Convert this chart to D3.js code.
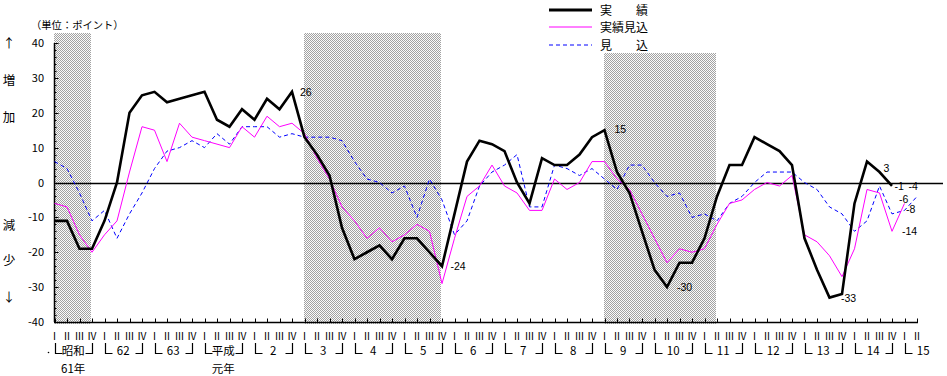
<!DOCTYPE html>
<html><head><meta charset="utf-8">
<script src="https://cdn.jsdelivr.net/npm/d3@7"></script>
<style>
body{margin:0;background:#fff}
svg{display:block}
text{font-family:"Noto Sans CJK JP","Noto Sans",sans-serif;fill:#000}
text.ann{font-family:"Liberation Sans","DejaVu Sans",sans-serif}
</style>
</head><body>
<svg id="c" width="947" height="376"></svg>
<script>
// ---------- data ----------
const quarterLabels = ["Ⅰ","Ⅱ","Ⅲ","Ⅳ"];
const yearLabels = ["昭和","62","63","平成","2","3","4","5","6","7","8","9","10","11","12","13","14","15"];
const yearSubLabels = ["61年","","","元年","","","","","","","","","","","","","",""];
const quarterCount = 70; // 昭和61年Ⅰ ～ 15年Ⅱ

// 実績
const jisseki = [-11,-11,-19,-19,-11,0,20,25,26,23,24,25,26,18,16,21,18,24,21,26,
  13,8,2,-13,-22,-20,-18,-22,-16,-16,-20,-24,-9,6,12,11,9,0,-6,7,
  5,5,8,13,15,3,-3,-14,-25,-30,-23,-23,-16,-4,5,5,13,11,9,5,
  -16,-25,-33,-32,-6,6,3,-1];
// 実績見込
const jissekiMikomi = [-6,-7,-15,-20,-15,-11,3,16,15,6,17,13,12,11,10,16,13,19,16,17,
  14,7,1,-7,-11,-16,-13,-17,-15,-12,-14,-29,-16,-4,-1,5,-1,-3,-8,-8,
  1,-2,0,6,6,1,-2,-9,-16,-23,-19,-20,-19,-12,-6,-5,-2,0,-1,2,
  -15,-17,-21,-27,-19,-2,-3,-14,-6];
// 見込
const mikomi = [6,4,-3,-11,-8,-16,-9,-3,4,9,10,12,10,14,11,16,16,16,13,14,
  13,13,13,12,6,1,0,-3,-1,-10,1,-5,-15,-11,-1,3,5,8,-7,-7,
  5,4,2,4,1,-2,5,5,0,-4,-3,-10,-9,-11,-6,-4,0,3,3,3,
  0,-2,-7,-9,-14,-11,-1,-9,-8,-4];

const yTicks = [40,30,20,10,0,-10,-20,-30,-40];
const yMinorTicks = d3.range(-40, 41, 2);

// recession shading (quarter index range, top value)
const shadeStart = [0,20,44];
const shadeEnd = [3,31,53];
const shadeTop = [43,43,37];

// annotations
const annSeries = ["jisseki","jisseki","jisseki","jisseki","jisseki","jisseki","jisseki","mikomi","jissekiMikomi","mikomi","jissekiMikomi"];
const annIndex  = [19,31,44,49,63,66,67,69,68,68,67];
const annText   = ["26","-24","15","-30","-33","3","-1","-4","-6","-8","-14"];

const legendNames = ["実　　績","実績見込","見　　込"];

// ---------- drawing ----------
const seriesMap = {jisseki, jissekiMikomi, mikomi};
const svg = d3.select("#c");
const x = d3.scaleLinear().domain([0, quarterCount-1]).range([54.5, 917]);
const y = d3.scaleLinear().domain([-40, 40]).range([322, 43]);

// checker pattern for shading
const defs = svg.append("defs");
const pat = defs.append("pattern").attr("id","chk").attr("patternUnits","userSpaceOnUse")
  .attr("width",2).attr("height",2);
pat.append("rect").attr("width",2).attr("height",2).attr("fill","#fbfbfb");
pat.append("rect").attr("x",0).attr("y",0).attr("width",1).attr("height",1).attr("fill","#a2a2a2");
pat.append("rect").attr("x",1).attr("y",1).attr("width",1).attr("height",1).attr("fill","#a2a2a2");

svg.append("g").selectAll("rect").data(shadeStart).join("rect")
  .attr("x",(d)=>Math.round(x(d))-1)
  .attr("y",(d,i)=>Math.round(y(shadeTop[i])))
  .attr("width",(d,i)=>Math.round(x(shadeEnd[i]))-Math.round(x(d)))
  .attr("height",(d,i)=>Math.round(y(-40))+2-Math.round(y(shadeTop[i])))
  .attr("fill","url(#chk)");

// y axis
const gy = svg.append("g");
gy.append("line").attr("x1",54.5).attr("x2",54.5).attr("y1",y(40)).attr("y2",y(-40)).attr("stroke","#000").attr("stroke-width",1.5);
gy.selectAll("line.mn").data(yMinorTicks).join("line").attr("class","mn")
  .attr("x1",54.5).attr("x2",56.5).attr("y1",d=>Math.round(y(d))+0.5).attr("y2",d=>Math.round(y(d))+0.5)
  .attr("stroke","#000").attr("stroke-width",1);
gy.selectAll("line.mj").data(yTicks).join("line").attr("class","mj")
  .attr("x1",54.5).attr("x2",58.5).attr("y1",d=>Math.round(y(d))+0.5).attr("y2",d=>Math.round(y(d))+0.5)
  .attr("stroke","#000").attr("stroke-width",1);
gy.selectAll("text").data(yTicks).join("text")
  .attr("x",44).attr("y",d=>y(d)+4).attr("text-anchor","end").attr("font-size",11)
  .text(d=>d);

// x axis
const gx = svg.append("g");
gx.append("line").attr("x1",54).attr("x2",918).attr("y1",322.5).attr("y2",322.5).attr("stroke","#000").attr("stroke-width",1.5);
const qIdx = d3.range(quarterCount);
gx.selectAll("line.t").data(qIdx).join("line").attr("class","t")
  .attr("x1",d=>Math.round(x(d))+0.5).attr("x2",d=>Math.round(x(d))+0.5)
  .attr("y1",322).attr("y2",318.5).attr("stroke","#000");
gx.selectAll("text.q").data(qIdx).join("text").attr("class","q")
  .attr("x",d=>x(d)).attr("y",339.5).attr("text-anchor","middle").attr("font-size",10)
  .text(d=>quarterLabels[d%4]);

// year brackets and labels
const yg = svg.append("g");
yearLabels.forEach((lab,i)=>{
  const x0 = Math.round(x(i*4))+0.5;
  const x3 = Math.round(x(i*4+3))+0.5;
  const last = (i*4+3) >= quarterCount;
  yg.append("path").attr("d",`M${x0},343V353.5H${x0+7}`).attr("fill","none").attr("stroke","#000").attr("stroke-width",1.2);
  if(!last) yg.append("path").attr("d",`M${x3},343V353.5H${x3-7}`).attr("fill","none").attr("stroke","#000").attr("stroke-width",1.2);
  const cx = (x(i*4)+x(i*4+3))/2;
  yg.append("text").attr("x",cx).attr("y",355).attr("text-anchor","middle").attr("font-size",11.5).text(lab);
  if(yearSubLabels[i]) yg.append("text").attr("x",cx).attr("y",373).attr("text-anchor","middle").attr("font-size",11.5).text(yearSubLabels[i]);
});
yg.append("circle").attr("cx",48.5).attr("cy",352.5).attr("r",0.8).attr("fill","#000");

// zero line
svg.append("line").attr("x1",54).attr("x2",943).attr("y1",Math.round(y(0))+0.5).attr("y2",Math.round(y(0))+0.5)
  .attr("stroke","#000").attr("stroke-width",1.3);

// lines
const line = d3.line().x((d,i)=>x(i)).y(d=>y(d));
svg.append("path").datum(mikomi).attr("d",line).attr("fill","none").attr("stroke","#0000ff")
  .attr("stroke-width",1).attr("stroke-dasharray","4,3");
svg.append("path").datum(jissekiMikomi).attr("d",line).attr("fill","none").attr("stroke","#ff00ff")
  .attr("stroke-width",1);
svg.append("path").datum(jisseki).attr("d",line).attr("fill","none").attr("stroke","#000")
  .attr("stroke-width",2.6).attr("stroke-linejoin","miter");

// annotations (offset from point)
const annDx = [8,8.5,10,10,-1,4,2.5,-8.5,-5.5,1.5,10];
const annDy = [4,4,3,4,7.5,0,3.8,-6.8,-0.2,3,4];
svg.append("g").selectAll("text").data(annText).join("text").attr("class","ann")
  .attr("x",(d,i)=>x(annIndex[i])+annDx[i])
  .attr("y",(d,i)=>y(seriesMap[annSeries[i]][annIndex[i]])+annDy[i])
  .attr("font-size",10.5).text(d=>d);

// left side labels
const side = [["↑",48],["増",85],["加",122],["減",230],["少",265],["↓",302]];
svg.append("g").selectAll("text").data(side).join("text")
  .attr("x",9).attr("y",d=>d[1]).attr("text-anchor","middle").attr("font-size",12.5).text(d=>d[0]);
svg.append("text").attr("x",31).attr("y",29).attr("font-size",10.3).text("（単位：ポイント）");

// legend
const lg = svg.append("g");
const lStyles = [{c:"#000",w:3,da:null},{c:"#ff00ff",w:1,da:null},{c:"#0000ff",w:1,da:"4,3"}];
const lY = [10,27,45];
legendNames.forEach((n,i)=>{
  const l = lg.append("line").attr("x1",549).attr("x2",592).attr("y1",lY[i]).attr("y2",lY[i])
    .attr("stroke",lStyles[i].c).attr("stroke-width",lStyles[i].w);
  if(lStyles[i].da) l.attr("stroke-dasharray",lStyles[i].da);
  lg.append("text").attr("x",600).attr("y",lY[i]+4.5).attr("font-size",12).text(n);
});
</script>
</body></html>
